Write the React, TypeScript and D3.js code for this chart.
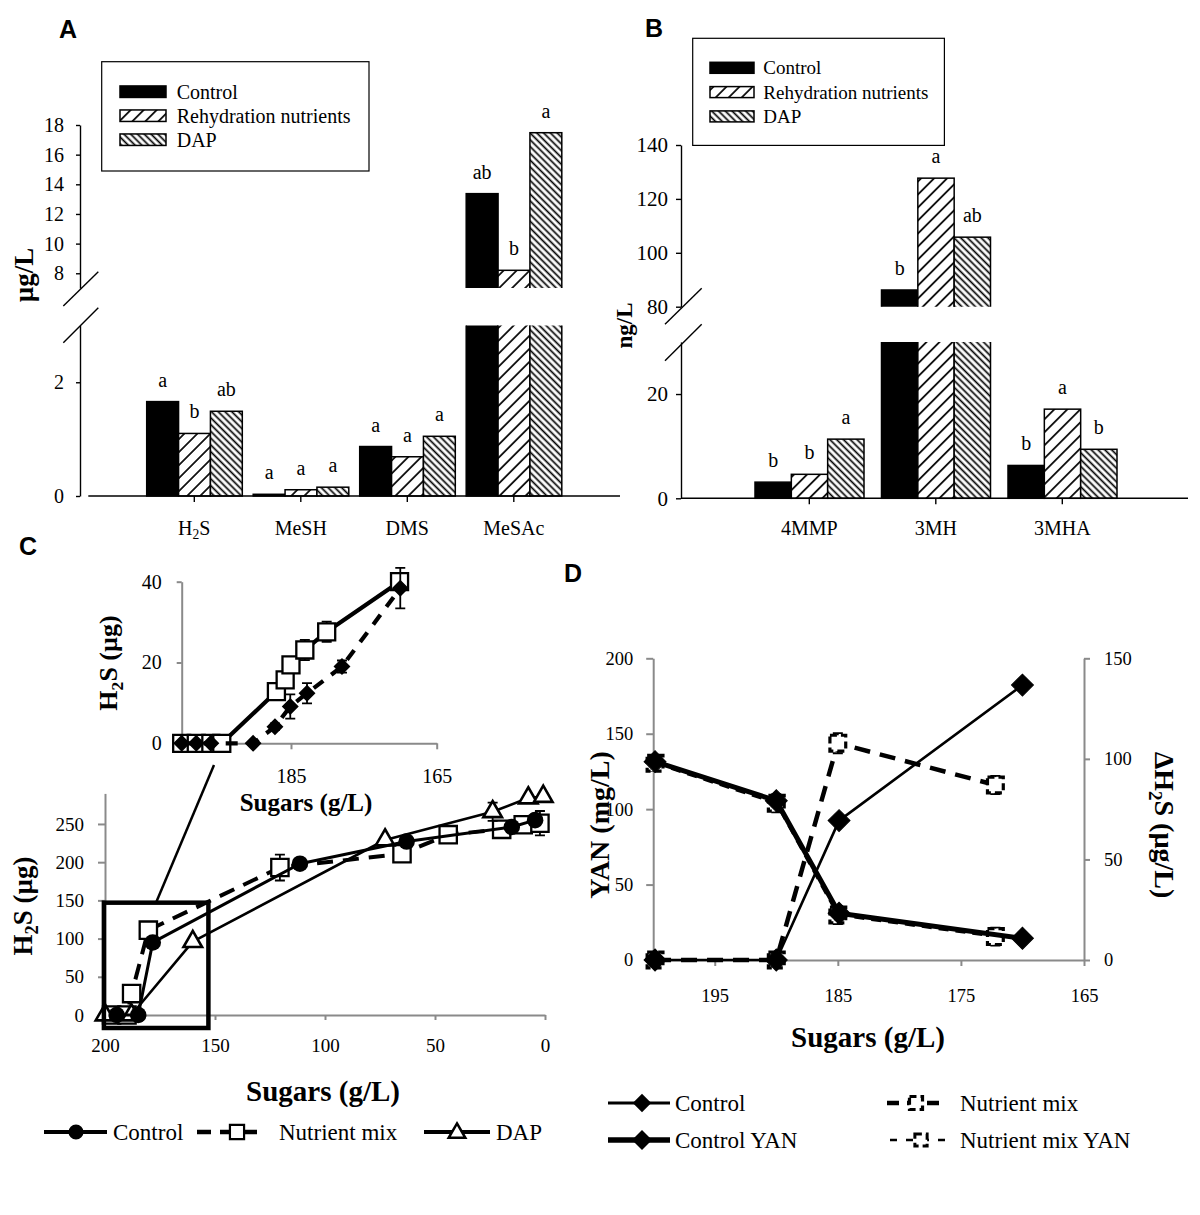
import React, { useEffect, useRef } from 'react';
import * as d3 from 'd3';

const W = 1200;
const H = 1215;
const SERIF = '"Liberation Serif", "Times New Roman", Times, serif';
const SANS = '"Liberation Sans", Arial, Helvetica, sans-serif';
const GRAY = '#8a8a8a';

// ---------- Panels A and B: bar charts with a broken y axis ----------
const TREATMENTS = ['Control', 'Rehydration nutrients', 'DAP'];
const TREATMENT_FILLS = ['#000', 'url(#hatch-fwd)', 'url(#hatch-back)'];

const COMPOUNDS_A = ['H_2S', 'MeSH', 'DMS', 'MeSAc'];
const CONTROL_A = [1.66, 0.03, 0.87, 13.37];
const REHYD_A = [1.1, 0.11, 0.69, 8.2];
const DAP_A = [1.49, 0.155, 1.05, 17.48];
const LETTERS_A = [
  ['a', 'a', 'a', 'ab'],
  ['b', 'a', 'a', 'b'],
  ['ab', 'a', 'a', 'a'],
];
const TICKS_A_LOW = [0, 2];
const TICKS_A_HIGH = [8, 10, 12, 14, 16, 18];

const COMPOUNDS_B = ['4MMP', '3MH', '3MHA'];
const CONTROL_B = [3.1, 86.2, 6.3];
const REHYD_B = [4.6, 127.7, 17.1];
const DAP_B = [11.35, 105.8, 9.4];
const LETTERS_B = [
  ['b', 'b', 'b'],
  ['b', 'a', 'a'],
  ['a', 'ab', 'b'],
];
const TICKS_B_LOW = [0, 20];
const TICKS_B_HIGH = [80, 100, 120, 140];

// ---------- Panel C: cumulative H2S vs sugars  [sugars g/L, H2S µg, error] ----------
const C_CONTROL = [[194.7, 0, 0], [184.9, 0, 0], [178.3, 95, 3], [111.4, 198, 3], [62.9, 227, 3], [15.1, 246, 3], [4.5, 255, 4]];
const C_NUTRIENT = [[197, 0, 0], [190, 0, 0], [187.9, 28, 10], [180.3, 111, 8], [120.5, 193, 17], [65, 211, 4], [44, 236, 11], [19.7, 243, 6], [9.9, 249, 5], [2.3, 251, 16]];
const C_DAP = [[200, 0, 0], [188, 0, 0], [160.1, 96, 3], [72.7, 229, 3], [23.8, 266, 12], [7.6, 284, 4], [0.8, 286, 4]];
const C_TICKS_X = [200, 150, 100, 50, 0];
const C_TICKS_Y = [0, 50, 100, 150, 200, 250];

// inset of panel C
const INSET_SQUARES = [[200, 0, 0], [198, 0, 0], [196, 0, 0], [194.5, 0, 0], [187, 12.8, 1.5], [185.8, 15.7, 1], [185, 19.4, 1.5], [183.1, 23.1, 2.5], [180.1, 27.6, 2.5], [170.1, 40, 1]];
const INSET_DIAMONDS = [[200, 0, 0], [198, 0, 0], [196, 0, 0], [190.2, 0, 0], [187.2, 4.1, 0.8], [185.1, 9.1, 3], [182.8, 12.4, 2.5], [178, 19, 1.5], [170, 38.4, 5]];
const INSET_TICKS_X = [185, 165];
const INSET_TICKS_Y = [0, 20, 40];

// ---------- Panel D: YAN and delta H2S vs sugars ----------
const D_CONTROL_H2S = [[199.85, 0, 0], [190, 0, 0], [184.9, 69.3, 0], [170, 136.7, 0]];
const D_NUTRIENT_H2S = [[199.85, 0, 2], [190, 0, 2], [185, 107.8, 5], [172.2, 87, 4.5]];
const D_CONTROL_YAN = [[199.85, 131.5, 3], [190, 105.6, 3], [184.9, 31, 4], [170, 14.4, 2]];
const D_NUTRIENT_YAN = [[199.85, 130.4, 5], [190, 103.9, 6], [185, 29.8, 6], [172.2, 15.5, 6]];
const D_TICKS_X = [195, 185, 175, 165];
const D_TICKS_YAN = [0, 50, 100, 150, 200];
const D_TICKS_H2S = [0, 50, 100, 150];

const fmt = d3.format('d');

// text with "_2" style subscripts
function richText(text: any, label: string, size: number) {
  const parts = label.split(/(_\d)/).filter((p) => p.length);
  let down = false;
  parts.forEach((p) => {
    if (p.startsWith('_')) {
      text.append('tspan').attr('dy', size * 0.22).attr('font-size', size * 0.68).text(p.slice(1));
      down = true;
    } else {
      const t = text.append('tspan').text(p);
      if (down) t.attr('dy', -size * 0.22);
      down = false;
    }
  });
}

function styleAxis(ax: any, color: string, size: number, width: number) {
  ax.attr('font-family', SERIF).attr('font-size', size);
  ax.select('.domain').attr('stroke', color).attr('stroke-width', width);
  ax.selectAll('.tick line').attr('stroke', color).attr('stroke-width', width);
  ax.selectAll('.tick text').attr('fill', '#000');
}

function marker(g: any, cx: number, cy: number, m: any) {
  const types: any = {
    circle: d3.symbolCircle,
    square: d3.symbolSquare,
    triangle: d3.symbolTriangle,
    diamond: d3.symbolSquare,
  };
  g.append('path')
    .attr('d', d3.symbol().type(types[m.shape]).size(m.size)())
    .attr('transform', `translate(${cx},${cy})${m.shape === 'diamond' ? ' rotate(45)' : ''}`)
    .attr('fill', m.fill)
    .attr('stroke', '#000')
    .attr('stroke-width', m.stroke || 0)
    .attr('stroke-dasharray', m.dash || null);
}

function plotSeries(g: any, x: any, y: any, data: number[][], s: any) {
  const line = d3
    .line<number[]>()
    .x((d) => x(d[0]))
    .y((d) => y(d[1]));
  g.append('path')
    .attr('d', line(data))
    .attr('fill', 'none')
    .attr('stroke', '#000')
    .attr('stroke-width', s.width)
    .attr('stroke-dasharray', s.dash || null)
    .attr('stroke-linejoin', 'round');
  data.forEach((d) => {
    if (!d[2]) return;
    const cx = x(d[0]);
    const y0 = y(d[1] - d[2]);
    const y1 = y(d[1] + d[2]);
    g.append('path')
      .attr('d', `M${cx},${y0}V${y1}M${cx - 5},${y0}H${cx + 5}M${cx - 5},${y1}H${cx + 5}`)
      .attr('stroke', '#000')
      .attr('stroke-width', 1.8)
      .attr('fill', 'none');
  });
  data.forEach((d) => marker(g, x(d[0]), y(d[1]), s.marker));
}

function drawBarPanel(svg: any, o: any) {
  const g = svg.append('g');
  const defs = svg.select('defs');
  const x0 = d3.scaleBand().domain(o.cats).range(o.band);
  const x1 = d3.scaleBand().domain(TREATMENTS).range(o.sub);
  const yLow = d3.scaleLinear().domain(o.lowDomain).range(o.lowRange);
  const yHigh = d3.scaleLinear().domain(o.highDomain).range(o.highRange);
  const lowTop = yLow(o.lowDomain[1]);
  const highBottom = yHigh(o.highDomain[0]);

  defs.append('clipPath').attr('id', `${o.id}-low`).append('rect')
    .attr('x', 0).attr('y', lowTop).attr('width', W).attr('height', yLow(0) - lowTop + 2);
  defs.append('clipPath').attr('id', `${o.id}-high`).append('rect')
    .attr('x', 0).attr('y', 0).attr('width', W).attr('height', highBottom);

  const lowG = g.append('g').attr('clip-path', `url(#${o.id}-low)`);
  const highG = g.append('g').attr('clip-path', `url(#${o.id}-high)`);

  o.series.forEach((vals: number[], j: number) => {
    vals.forEach((v: number, i: number) => {
      const bx = (x0(o.cats[i]) as number) + (x1(TREATMENTS[j]) as number);
      const bw = x1.bandwidth();
      const broken = v > o.lowDomain[1];
      const yl = broken ? lowTop - 10 : yLow(v);
      lowG.append('rect')
        .attr('x', bx).attr('y', yl).attr('width', bw).attr('height', yLow(0) - yl)
        .attr('fill', TREATMENT_FILLS[j]).attr('stroke', '#000').attr('stroke-width', 1.5);
      if (broken) {
        const yh = yHigh(v);
        highG.append('rect')
          .attr('x', bx).attr('y', yh).attr('width', bw).attr('height', highBottom + 10 - yh)
          .attr('fill', TREATMENT_FILLS[j]).attr('stroke', '#000').attr('stroke-width', 1.5);
      }
      const top = broken ? yHigh(v) : yLow(v);
      g.append('text')
        .attr('x', bx + bw / 2).attr('y', top - 15)
        .attr('text-anchor', 'middle').attr('font-family', SERIF).attr('font-size', 20)
        .text(o.letters[j][i]);
    });
  });

  // y axis, two segments
  const axLow = g.append('g').attr('transform', `translate(${o.axisX},0)`)
    .call(d3.axisLeft(yLow).tickValues(o.lowTicks).tickFormat(fmt).tickSize(o.tickSize).tickSizeOuter(0).tickPadding(o.pad));
  styleAxis(axLow, '#000', o.tickFont, 1.4);
  const axHigh = g.append('g').attr('transform', `translate(${o.axisX},0)`)
    .call(d3.axisLeft(yHigh).tickValues(o.highTicks).tickFormat(fmt).tickSize(o.tickSize).tickSizeOuter(0).tickPadding(o.pad));
  styleAxis(axHigh, '#000', o.tickFont, 1.4);

  o.breaks.forEach((b: number[]) => {
    g.append('line').attr('x1', b[0]).attr('y1', b[1]).attr('x2', b[2]).attr('y2', b[3])
      .attr('stroke', '#000').attr('stroke-width', 1.4);
  });

  // x axis
  const y0 = yLow(0);
  g.append('line').attr('x1', o.xAxis[0]).attr('x2', o.xAxis[1]).attr('y1', y0).attr('y2', y0)
    .attr('stroke', '#000').attr('stroke-width', 1.4);
  o.cats.forEach((c: string) => {
    const cx = (x0(c) as number) + x0.bandwidth() / 2;
    g.append('line').attr('x1', cx).attr('x2', cx).attr('y1', y0).attr('y2', y0 + 6)
      .attr('stroke', '#000').attr('stroke-width', 1.4);
    const t = g.append('text').attr('x', cx).attr('y', o.catBaseline).attr('text-anchor', 'middle')
      .attr('font-family', SERIF).attr('font-size', 20);
    richText(t, c, 20);
  });

  // y label
  g.append('text')
    .attr('transform', `translate(${o.yLabel[0]},${o.yLabel[1]}) rotate(-90)`)
    .attr('text-anchor', 'middle').attr('font-family', SERIF).attr('font-weight', 'bold')
    .attr('font-size', o.yLabel[2]).text(o.yLabel[3]);

  // legend
  const L = o.legend;
  g.append('rect').attr('x', L.box[0]).attr('y', L.box[1]).attr('width', L.box[2]).attr('height', L.box[3])
    .attr('fill', '#fff').attr('stroke', '#000').attr('stroke-width', 1.2);
  TREATMENTS.forEach((t, j) => {
    const cy = L.first + j * L.step;
    g.append('rect').attr('x', L.sx).attr('y', cy - L.sh / 2).attr('width', L.sw).attr('height', L.sh)
      .attr('fill', TREATMENT_FILLS[j]).attr('stroke', '#000').attr('stroke-width', 1.5);
    g.append('text').attr('x', L.tx).attr('y', cy + L.font * 0.34)
      .attr('font-family', SERIF).attr('font-size', L.font).text(t);
  });
}

function panelLetter(svg: any, x: number, y: number, s: string) {
  svg.append('text').attr('x', x).attr('y', y).attr('font-family', SANS).attr('font-weight', 'bold')
    .attr('font-size', 25).text(s);
}

function axisTitle(svg: any, x: number, y: number, size: number, label: string, rot: number) {
  const t = svg.append('text')
    .attr('transform', `translate(${x},${y}) rotate(${rot})`)
    .attr('text-anchor', 'middle').attr('font-family', SERIF).attr('font-weight', 'bold')
    .attr('font-size', size);
  richText(t, label, size);
}

export default function App() {
  const svgRef = useRef<SVGSVGElement | null>(null);

  useEffect(() => {
    const svg = d3.select(svgRef.current);
    svg.selectAll('*').remove();
    svg.append('rect').attr('width', W).attr('height', H).attr('fill', '#fff');
    const defs = svg.append('defs');

    // hatches
    [['hatch-fwd', 9.2, 45], ['hatch-back', 4.8, -45]].forEach(([id, s, a]: any) => {
      const p = defs.append('pattern').attr('id', id).attr('patternUnits', 'userSpaceOnUse')
        .attr('width', s).attr('height', s).attr('patternTransform', `rotate(${a})`);
      p.append('rect').attr('width', s).attr('height', s).attr('fill', '#fff');
      p.append('line').attr('x1', s / 2).attr('x2', s / 2).attr('y1', 0).attr('y2', s)
        .attr('stroke', '#000').attr('stroke-width', 1.7);
    });

    // ----- A -----
    drawBarPanel(svg, {
      id: 'pA', cats: COMPOUNDS_A, series: [CONTROL_A, REHYD_A, DAP_A], letters: LETTERS_A,
      lowDomain: [0, 3], lowRange: [496, 325.4], highDomain: [7, 18], highRange: [288.1, 125],
      band: [141.05, 567.05], sub: [5.65, 101.25], axisX: 80, xAxis: [88.3, 620],
      lowTicks: TICKS_A_LOW, highTicks: TICKS_A_HIGH, tickSize: 4, pad: 12, tickFont: 20,
      breaks: [[63.3, 306, 98.3, 271.7], [63.3, 342.7, 98.3, 307.7]],
      catBaseline: 535, yLabel: [33, 275, 27, 'µg/L'],
      legend: { box: [101.7, 61.7, 267.3, 109.3], sx: 120, sw: 46, sh: 11.5, first: 91.7, step: 24, tx: 176.7, font: 20 },
    });
    panelLetter(svg, 59, 38, 'A');

    // ----- B -----
    drawBarPanel(svg, {
      id: 'pB', cats: COMPOUNDS_B, series: [CONTROL_B, REHYD_B, DAP_B], letters: LETTERS_B,
      lowDomain: [0, 30], lowRange: [498.3, 341.9], highDomain: [80, 140], highRange: [306.7, 145],
      band: [746.05, 1125.55], sub: [8.95, 117.95], axisX: 681, xAxis: [681, 1188],
      lowTicks: TICKS_B_LOW, highTicks: TICKS_B_HIGH, tickSize: 5, pad: 8, tickFont: 21,
      breaks: [[665, 324.3, 701.7, 288.3], [665, 360.7, 701.7, 324.3]],
      catBaseline: 535, yLabel: [632, 325.5, 23, 'ng/L'],
      legend: { box: [692.7, 38.3, 251.7, 107.1], sx: 710, sw: 44, sh: 11, first: 67.8, step: 24.3, tx: 763.3, font: 19 },
    });
    panelLetter(svg, 645, 37, 'B');

    // ----- C main -----
    const gC = svg.append('g');
    const xC = d3.scaleLinear().domain([200, 0]).range([105, 545]);
    const yC = d3.scaleLinear().domain([0, 290]).range([1015, 793.4]);
    const axCx = gC.append('g').attr('transform', `translate(0,${yC(0)})`)
      .call(d3.axisBottom(xC).tickValues(C_TICKS_X).tickFormat(fmt).tickSize(5).tickSizeOuter(0).tickPadding(19));
    styleAxis(axCx, GRAY, 19, 2);
    const axCy = gC.append('g').attr('transform', `translate(${xC(200)},0)`)
      .call(d3.axisLeft(yC).tickValues(C_TICKS_Y).tickFormat(fmt).tickSize(7).tickSizeOuter(0).tickPadding(14));
    styleAxis(axCy, GRAY, 19, 2);

    plotSeries(gC, xC, yC, C_NUTRIENT, { width: 4, dash: '16,10', marker: { shape: 'square', size: 300, fill: '#fff', stroke: 2.3 } });
    plotSeries(gC, xC, yC, C_DAP, { width: 2.6, marker: { shape: 'triangle', size: 150, fill: '#fff', stroke: 2.6 } });
    plotSeries(gC, xC, yC, C_CONTROL, { width: 3, marker: { shape: 'circle', size: 215, fill: '#000' } });

    // zoom box and connector to the inset
    gC.append('rect').attr('x', xC(200.5)).attr('y', yC(147))
      .attr('width', xC(153) - xC(200.5)).attr('height', yC(-17) - yC(147))
      .attr('fill', 'none').attr('stroke', '#000').attr('stroke-width', 4.5);
    gC.append('line').attr('x1', 214).attr('y1', 765).attr('x2', 156).attr('y2', yC(147))
      .attr('stroke', '#000').attr('stroke-width', 2.5);

    axisTitle(svg, 32, 906, 27, 'H_2S (µg)', -90);
    axisTitle(svg, 323, 1101, 29, 'Sugars (g/L)', 0);

    // ----- C inset -----
    const gI = svg.append('g');
    const xI = d3.scaleLinear().domain([200, 165]).range([181.7, 436.7]);
    const yI = d3.scaleLinear().domain([0, 40]).range([743.3, 581.7]);
    const axIx = gI.append('g').attr('transform', `translate(0,${yI(0)})`)
      .call(d3.axisBottom(xI).tickValues(INSET_TICKS_X).tickFormat(fmt).tickSize(6).tickSizeOuter(0).tickPadding(20));
    styleAxis(axIx, GRAY, 20, 2);
    const axIy = gI.append('g').attr('transform', `translate(${xI(200)},0)`)
      .call(d3.axisLeft(yI).tickValues(INSET_TICKS_Y).tickFormat(fmt).tickSize(5).tickSizeOuter(0).tickPadding(15));
    styleAxis(axIy, GRAY, 20, 2);
    plotSeries(gI, xI, yI, INSET_SQUARES, { width: 4.2, marker: { shape: 'square', size: 290, fill: '#fff', stroke: 2.3 } });
    plotSeries(gI, xI, yI, INSET_DIAMONDS, { width: 4.2, dash: '12,10', marker: { shape: 'diamond', size: 110, fill: '#000', stroke: 1.5 } });
    axisTitle(svg, 117, 663, 26, 'H_2S (µg)', -90);
    axisTitle(svg, 306, 811, 25, 'Sugars (g/L)', 0);
    panelLetter(svg, 19, 555, 'C');

    // C legend
    const lc = 1132;
    svg.append('line').attr('x1', 44).attr('x2', 107).attr('y1', lc).attr('y2', lc).attr('stroke', '#000').attr('stroke-width', 4);
    marker(svg, 76, lc, { shape: 'circle', size: 180, fill: '#000' });
    svg.append('line').attr('x1', 197).attr('x2', 264).attr('y1', lc).attr('y2', lc).attr('stroke', '#000').attr('stroke-width', 4.5).attr('stroke-dasharray', '14,9');
    marker(svg, 237, lc, { shape: 'square', size: 200, fill: '#fff', stroke: 2.2 });
    svg.append('line').attr('x1', 424).attr('x2', 490).attr('y1', lc).attr('y2', lc).attr('stroke', '#000').attr('stroke-width', 4);
    marker(svg, 457, lc + 1, { shape: 'triangle', size: 120, fill: '#fff', stroke: 2.5 });
    [['Control', 113], ['Nutrient mix', 279], ['DAP', 496]].forEach(([t, x]: any) => {
      svg.append('text').attr('x', x).attr('y', lc + 8).attr('font-family', SERIF).attr('font-size', 23).text(t);
    });

    // ----- D -----
    const gD = svg.append('g');
    const xD = d3.scaleLinear().domain([200, 165]).range([653.2, 1084]);
    const yYan = d3.scaleLinear().domain([0, 200]).range([960, 658.3]);
    const yH2S = d3.scaleLinear().domain([0, 150]).range([960, 658.3]);
    const axDx = gD.append('g').attr('transform', `translate(0,${yYan(0)})`)
      .call(d3.axisBottom(xD).tickValues(D_TICKS_X).tickFormat(fmt).tickSize(6).tickSizeOuter(0).tickPadding(23));
    styleAxis(axDx, GRAY, 18.5, 2);
    const axDl = gD.append('g').attr('transform', `translate(${xD(200)},0)`)
      .call(d3.axisLeft(yYan).tickValues(D_TICKS_YAN).tickFormat(fmt).tickSize(7).tickSizeOuter(0).tickPadding(13));
    styleAxis(axDl, GRAY, 18.5, 2);
    const axDr = gD.append('g').attr('transform', `translate(${xD(165)},0)`)
      .call(d3.axisRight(yH2S).tickValues(D_TICKS_H2S).tickFormat(fmt).tickSize(6).tickSizeOuter(0).tickPadding(14));
    styleAxis(axDr, GRAY, 18.5, 2);

    const dashedSquare = { shape: 'square', size: 250, fill: '#fff', stroke: 3.2, dash: '7,4' };
    plotSeries(gD, xD, yYan, D_NUTRIENT_YAN, { width: 2.6, dash: '10,7', marker: dashedSquare });
    plotSeries(gD, xD, yYan, D_CONTROL_YAN, { width: 5, marker: { shape: 'diamond', size: 240, fill: '#000', stroke: 1 } });
    plotSeries(gD, xD, yH2S, D_NUTRIENT_H2S, { width: 4.5, dash: '16,10', marker: dashedSquare });
    plotSeries(gD, xD, yH2S, D_CONTROL_H2S, { width: 2.6, marker: { shape: 'diamond', size: 240, fill: '#000', stroke: 1 } });

    axisTitle(svg, 609, 825, 28, 'YAN (mg/L)', -90);
    axisTitle(svg, 1155, 825, 28, 'ΔH_2S (µg/L)', 90);
    axisTitle(svg, 868, 1047, 29, 'Sugars (g/L)', 0);
    panelLetter(svg, 564, 582, 'D');

    // D legend
    const r1 = 1103;
    const r2 = 1140;
    svg.append('line').attr('x1', 608).attr('x2', 670).attr('y1', r1).attr('y2', r1).attr('stroke', '#000').attr('stroke-width', 3);
    marker(svg, 642, r1, { shape: 'diamond', size: 170, fill: '#000' });
    svg.append('line').attr('x1', 608).attr('x2', 670).attr('y1', r2).attr('y2', r2).attr('stroke', '#000').attr('stroke-width', 5.5);
    marker(svg, 642, r2, { shape: 'diamond', size: 200, fill: '#000' });
    svg.append('line').attr('x1', 887).attr('x2', 945).attr('y1', r1).attr('y2', r1).attr('stroke', '#000').attr('stroke-width', 4.5).attr('stroke-dasharray', '12,8');
    marker(svg, 916, r1, { shape: 'square', size: 170, fill: '#fff', stroke: 3.2, dash: '7,4' });
    svg.append('line').attr('x1', 890).attr('x2', 952).attr('y1', r2).attr('y2', r2).attr('stroke', '#000').attr('stroke-width', 2.6).attr('stroke-dasharray', '7,9');
    marker(svg, 921, r2, { shape: 'square', size: 150, fill: '#fff', stroke: 3, dash: '7,4' });
    [['Control', 675, r1], ['Control YAN', 675, r2], ['Nutrient mix', 960, r1], ['Nutrient mix YAN', 960, r2]].forEach(([t, x, y]: any) => {
      svg.append('text').attr('x', x).attr('y', y + 8).attr('font-family', SERIF).attr('font-size', 23).text(t);
    });
  }, []);

  return (
    <div style={{ position: 'absolute', left: 0, top: 0 }}>
      <svg ref={svgRef} width={W} height={H} style={{ display: 'block' }} />
    </div>
  );
}
